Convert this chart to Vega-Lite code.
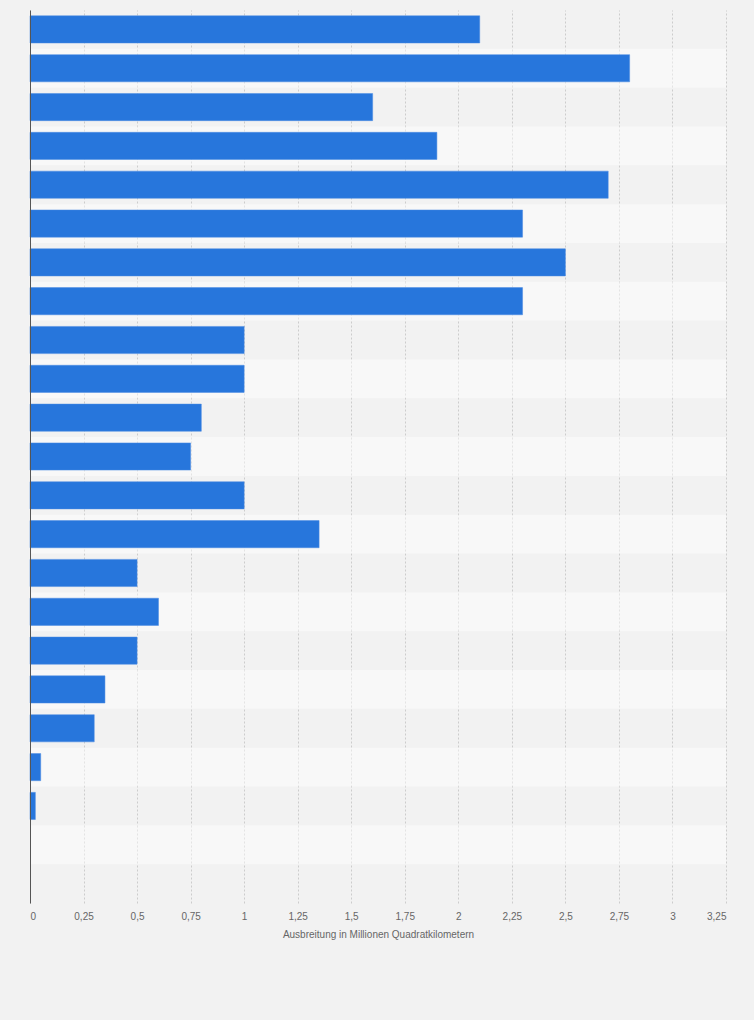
{
  "$schema": "https://vega.github.io/schema/vega-lite/v6.json",
  "autosize": "none",
  "width": 696,
  "height": 893,
  "padding": {"left": 30, "top": 10, "right": 28, "bottom": 117},
  "background": "#f2f2f2",
  "config": {
    "view": {"stroke": null},
    "font": "Liberation Sans",
    "locale": {"number": {"decimal": ",", "thousands": ".", "grouping": [3], "currency": ["", " €"]}}
  },
  "data": {
    "values": [
      {"kat": "1", "wert": 2.1},
      {"kat": "2", "wert": 2.8},
      {"kat": "3", "wert": 1.6},
      {"kat": "4", "wert": 1.9},
      {"kat": "5", "wert": 2.7},
      {"kat": "6", "wert": 2.3},
      {"kat": "7", "wert": 2.5},
      {"kat": "8", "wert": 2.3},
      {"kat": "9", "wert": 1.0},
      {"kat": "10", "wert": 1.0},
      {"kat": "11", "wert": 0.8},
      {"kat": "12", "wert": 0.75},
      {"kat": "13", "wert": 1.0},
      {"kat": "14", "wert": 1.35},
      {"kat": "15", "wert": 0.5},
      {"kat": "16", "wert": 0.6},
      {"kat": "17", "wert": 0.5},
      {"kat": "18", "wert": 0.35},
      {"kat": "19", "wert": 0.3},
      {"kat": "20", "wert": 0.05},
      {"kat": "21", "wert": 0.025},
      {"kat": "22", "wert": null},
      {"kat": "23", "wert": null}
    ]
  },
  "layer": [
    {
      "transform": [
        {"window": [{"op": "row_number", "as": "rn"}]},
        {"filter": "datum.rn % 2 == 0"}
      ],
      "mark": {"type": "rect", "fill": "#ffffff", "fillOpacity": 0.45},
      "encoding": {
        "y": {
          "field": "kat", "type": "nominal",
          "scale": {"domain": ["1","2","3","4","5","6","7","8","9","10","11","12","13","14","15","16","17","18","19","20","21","22","23"], "paddingInner": 0, "paddingOuter": 0},
          "axis": null
        },
        "x": {"value": 0},
        "x2": {"value": "width"}
      }
    },
    {
      "mark": {"type": "bar", "color": "#2776dc", "stroke": "#4a8ae3", "strokeWidth": 0.5},
      "encoding": {
        "y": {
          "field": "kat", "type": "nominal",
          "scale": {"domain": ["1","2","3","4","5","6","7","8","9","10","11","12","13","14","15","16","17","18","19","20","21","22","23"], "paddingInner": 0.3, "paddingOuter": 0.15},
          "axis": {"labels": false, "ticks": false, "title": null, "domain": true, "domainColor": "#555555", "domainWidth": 1, "grid": false, "zindex": 1}
        },
        "x": {
          "field": "wert", "type": "quantitative",
          "scale": {"domain": [0, 3.25], "nice": false, "zero": true},
          "axis": {
            "values": [0, 0.25, 0.5, 0.75, 1, 1.25, 1.5, 1.75, 2, 2.25, 2.5, 2.75, 3, 3.25],
            "labelExpr": "replace(format(datum.value, '.2~f'), '.', ',')",
            "title": "Ausbreitung in Millionen Quadratkilometern",
            "titleFontSize": 10,
            "titleFontWeight": "normal",
            "titleColor": "#666666",
            "titlePadding": 8,
            "labelFontSize": 10,
            "labelColor": "#666666",
            "labelPadding": 8,
            "ticks": false,
            "domain": false,
            "grid": true,
            "gridColor": "#cccccc",
            "gridDash": [2, 2],
            "gridWidth": 1
          }
        }
      }
    }
  ],
  "resolve": {"scale": {"y": "independent"}}
}
